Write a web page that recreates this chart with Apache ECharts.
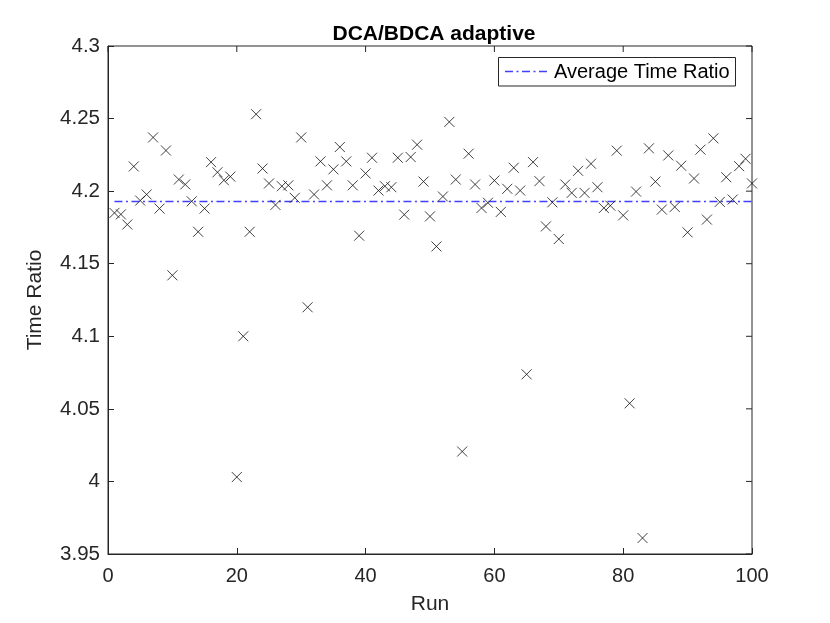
<!DOCTYPE html>
<html>
<head>
    <meta charset="UTF-8">
    <script src="https://cdn.jsdelivr.net/npm/echarts@6/dist/echarts.min.js"></script>
    <style>
        html, body { margin: 0; padding: 0; background: #fff; }
        #main { width: 830px; height: 623px; }
    </style>
</head>
<body>
<div id="main"></div>
<script type="text/javascript">
    // time ratio per run
    var ratios = [
        4.185, 4.184, 4.177, 4.217, 4.1935, 4.1977, 4.237, 4.188, 4.228, 4.142,
        4.208, 4.2046, 4.193, 4.172, 4.188, 4.220, 4.213, 4.2075, 4.210, 4.003,
        4.100, 4.172, 4.253, 4.2156, 4.2053, 4.1905, 4.2034, 4.204, 4.1954, 4.237,
        4.120, 4.1977, 4.2205, 4.204, 4.215, 4.2304, 4.2205, 4.204, 4.1693, 4.2122,
        4.223, 4.2004, 4.2034, 4.2027, 4.223, 4.1838, 4.2235, 4.232, 4.2066, 4.1826,
        4.1619, 4.1963, 4.2477, 4.208, 4.0206, 4.2258, 4.2046, 4.1884, 4.192, 4.2073,
        4.1857, 4.2016, 4.2161, 4.2004, 4.0738, 4.220, 4.2069, 4.1757, 4.1923, 4.167,
        4.2046, 4.1988, 4.214, 4.1988, 4.2189, 4.2027, 4.1884, 4.190, 4.2279, 4.1833,
        4.0538, 4.1997, 3.961, 4.2295, 4.2066, 4.1873, 4.2246, 4.1891, 4.2175, 4.1716,
        4.2087, 4.2286, 4.1804, 4.2364, 4.1926, 4.2096, 4.1942, 4.2172, 4.2223, 4.2053
    ];
    var avgRatio = 4.1928;
    var xTicks = [0, 20, 40, 60, 80, 100];
    var yTicks = [3.95, 4, 4.05, 4.1, 4.15, 4.2, 4.25, 4.3];
    var legendName = 'Average Time Ratio';

    var runs = [];
    for (var i = 0; i < ratios.length; i++) {
        runs.push(i + 1);
    }

    var axisColor = '#262626';
    var avgColor = '#0000ff';
    var font = 'Liberation Sans, Arial, sans-serif';
    var dashDot = [8, 3.5, 2, 3.5];

    var myChart = echarts.init(document.getElementById('main'));
    var option = {
        animation: false,
        title: {
            text: 'DCA/BDCA adaptive',
            left: 429,
            top: 19,
            textAlign: 'center',
            textStyle: {fontFamily: font, fontSize: 21, fontWeight: 'bold', color: '#000'}
        },
        grid: {left: 108, right: 78, top: 46, bottom: 69},
        xAxis: {
            type: 'value',
            min: 0,
            max: 100,
            interval: 20,
            name: 'Run',
            nameLocation: 'middle',
            nameGap: 40,
            nameTextStyle: {fontFamily: font, fontSize: 21, color: axisColor},
            axisLine: {show: true, lineStyle: {color: axisColor}},
            axisTick: {inside: true, length: 6, lineStyle: {color: axisColor}},
            axisLabel: {fontFamily: font, fontSize: 20, color: axisColor, margin: 12},
            splitLine: {show: false}
        },
        yAxis: {
            type: 'value',
            min: 3.95,
            max: 4.3,
            interval: 0.05,
            name: 'Time Ratio',
            nameLocation: 'middle',
            nameGap: 62,
            nameTextStyle: {fontFamily: font, fontSize: 21, color: axisColor},
            axisLine: {show: true, lineStyle: {color: axisColor}},
            axisTick: {inside: true, length: 6, lineStyle: {color: axisColor}},
            axisLabel: {
                fontFamily: font, fontSize: 20.5, color: axisColor, margin: 8,
                formatter: function (v) { return String(+v.toFixed(2)); }
            },
            splitLine: {show: false}
        },
        series: [
            {
                name: 'Average Time Ratio',
                type: 'line',
                symbol: 'none',
                color: avgColor,
                lineStyle: {color: avgColor, width: 1.5, type: dashDot, opacity: 0.75},
                data: [[1, avgRatio], [100, avgRatio]],
                z: 2
            },
            {
                name: 'Time Ratio',
                type: 'scatter',
                symbol: 'path://M0,0L10,10M10,0L0,10',
                symbolSize: 10,
                itemStyle: {color: 'none', borderColor: '#111', borderWidth: 1},
                data: runs.map(function (r, i) { return [r, ratios[i]]; }),
                z: 3
            }
        ]
    };
    myChart.setOption(option);

    // box outline, ticks on top/right edges and the legend box (MATLAB style)
    var g = [{
        type: 'rect', silent: true,
        shape: {x: 108, y: 46, width: 644, height: 508},
        style: {fill: 'none', stroke: axisColor, lineWidth: 1}
    }];
    xTicks.forEach(function (v) {
        var p = myChart.convertToPixel({gridIndex: 0}, [v, yTicks[yTicks.length - 1]]);
        g.push({type: 'line', silent: true, shape: {x1: p[0], y1: p[1], x2: p[0], y2: p[1] + 6},
            style: {stroke: axisColor, lineWidth: 1}});
    });
    yTicks.forEach(function (v) {
        var q = myChart.convertToPixel({gridIndex: 0}, [xTicks[xTicks.length - 1], v]);
        g.push({type: 'line', silent: true, shape: {x1: q[0], y1: q[1], x2: q[0] - 6, y2: q[1]},
            style: {stroke: axisColor, lineWidth: 1}});
    });
    g.push({
        type: 'rect', silent: true, z: 10,
        shape: {x: 498.5, y: 57.5, width: 237, height: 28.5},
        style: {fill: '#fff', stroke: axisColor, lineWidth: 1}
    });
    g.push({
        type: 'line', silent: true, z: 11,
        shape: {x1: 505, y1: 71.5, x2: 548, y2: 71.5},
        style: {stroke: avgColor, lineWidth: 1.5, lineDash: dashDot, opacity: 0.75}
    });
    g.push({
        type: 'text', silent: true, z: 11,
        style: {x: 554, y: 72, text: legendName, fontFamily: font, fontSize: 20,
            fill: '#000', verticalAlign: 'middle'}
    });
    myChart.setOption({graphic: g});
</script>
</body>
</html>
